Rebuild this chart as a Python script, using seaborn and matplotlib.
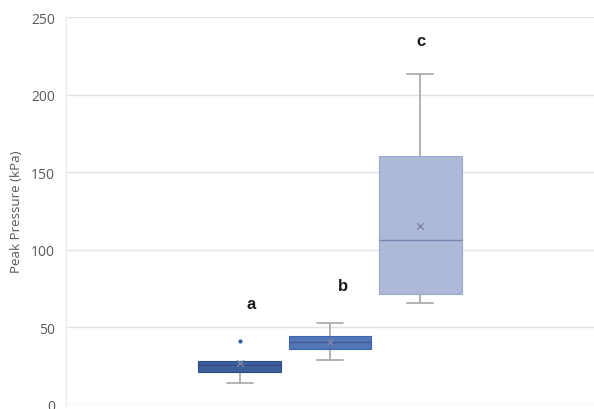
import numpy as np
import pandas as pd
import matplotlib
matplotlib.use("Agg")
import matplotlib.pyplot as plt
import seaborn as sns

# values (kPa)
groups = ["a", "b", "c"]
values_a = [14.2, 21.3, 21.3, 25.9, 28.4, 28.4, 41.2]
values_b = [28.9, 36.0, 36.0, 40.5, 44.4, 44.4, 52.8]
values_c = [65.6, 71.6, 71.6, 105.9, 160.2, 160.2, 213.4]
means = [26.8, 40.6, 115.1]
label_y = [65.0, 76.8, 234.6]
box_colors = ["#2E5DA8", "#4472C4", "#A7B5DE"]
edge_colors = ["#2A4C8A", "#3D67B3", "#98A8D6"]

df = pd.DataFrame({
    "group": ["a"] * len(values_a) + ["b"] * len(values_b) + ["c"] * len(values_c),
    "value": values_a + values_b + values_c,
})

sns.set_style("white")
plt.rcParams["font.family"] = ["Open Sans", "DejaVu Sans"]

fig = plt.figure(figsize=(5.94, 4.10), dpi=100)
ax = fig.add_axes([66 / 594, 4.3 / 410, 528 / 594, 387.7 / 410])

whisk_col = "#A6A6A6"
sns.boxplot(
    data=df, x="group", y="value", hue="group", palette=box_colors,
    width=0.92, whis=1.5, linewidth=1, legend=False, ax=ax,
    whiskerprops={"color": whisk_col, "linewidth": 1.2},
    capprops={"color": whisk_col, "linewidth": 1.2},
    medianprops={"color": (0.1, 0.15, 0.4, 0.35), "linewidth": 1},
    flierprops={"marker": "o", "markersize": 3, "markerfacecolor": "#2E5DA8",
                "markeredgecolor": "none"},
)
box_tops = []
for patch, ec in zip(ax.patches, edge_colors):
    patch.set_edgecolor(ec)
    patch.set_linewidth(0.8)
    patch.set_zorder(3)
    ext = patch.get_path().get_extents()
    box_tops += [ext.y0, ext.y1]

# whiskers behind boxes, narrower caps, hide caps sitting on a box edge
for ln in ax.lines:
    if matplotlib.colors.same_color(ln.get_color(), whisk_col):
        ln.set_zorder(2)
        xd = np.asarray(ln.get_xdata(), dtype=float)
        yd = np.asarray(ln.get_ydata(), dtype=float)
        if len(xd) == 2 and yd[0] == yd[1] and xd[0] != xd[1]:
            c = xd.mean()
            ln.set_xdata([c - 0.14, c + 0.14])
            if any(abs(yd[0] - t) < 0.01 for t in box_tops):
                ln.set_visible(False)
    else:
        ln.set_zorder(4)

sns.scatterplot(x=np.arange(len(groups)), y=means, marker="x", color="#7E86A8",
                s=22, linewidth=1, ax=ax, zorder=5)

label_dx = [0.12, 0.14, 0.01]
for i, g in enumerate(groups):
    ax.text(i + label_dx[i], label_y[i], g, ha="center", va="center",
            fontsize=12, fontweight="bold", color="#1A1A1A",
            family=["Liberation Sans", "DejaVu Sans"])

ax.set_xlim(-1.93, 3.93)
ax.set_ylim(0, 250)
ax.set_yticks(range(0, 251, 50))
ax.set_xticks([])
ax.set_xlabel("")
ax.grid(axis="y", color="#E3E3E3", lw=1)
ax.set_axisbelow(True)
ax.set_ylabel("Peak Pressure (kPa)", fontsize=9.6, color="#595959", labelpad=6)
ax.tick_params(axis="y", labelsize=10, colors="#595959", length=0, pad=8)
for s in ["top", "right", "bottom"]:
    ax.spines[s].set_visible(False)
ax.spines["left"].set_color("#EBEBEB")
ax.spines["left"].set_linewidth(0.8)

fig.savefig("out.png", dpi=100)
